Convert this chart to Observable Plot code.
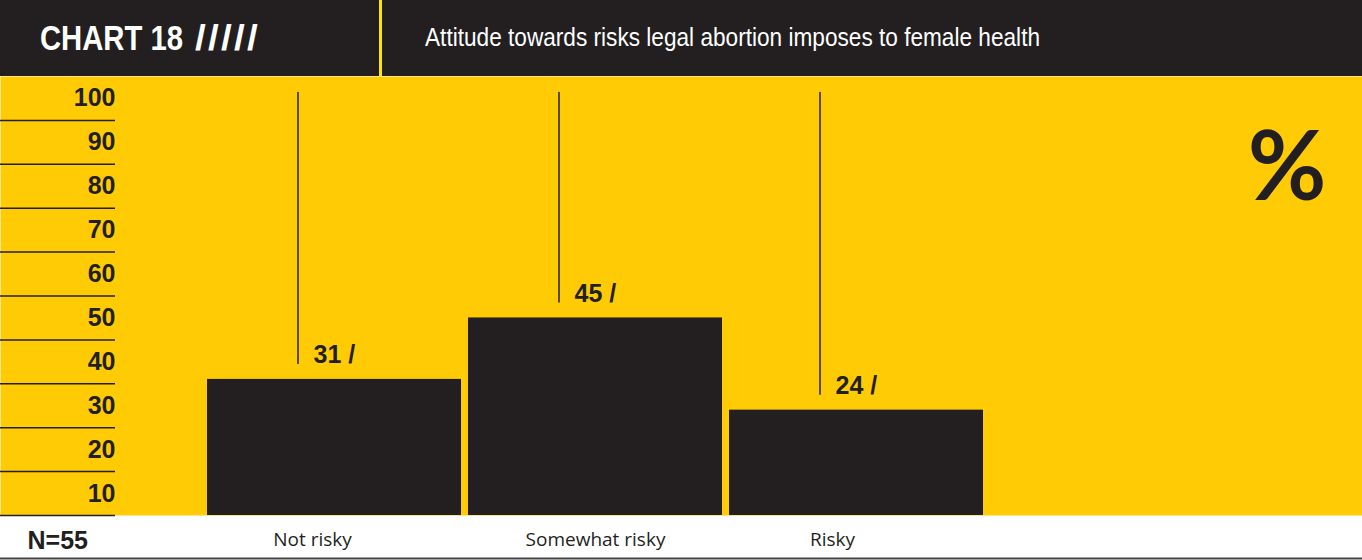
<!DOCTYPE html>
<html>
<head>
<meta charset="utf-8">
<script src="https://cdn.jsdelivr.net/npm/d3@7"></script>
<script src="https://cdn.jsdelivr.net/npm/@observablehq/plot@0.6"></script>
<style>
  html, body { margin: 0; padding: 0; background: #ffffff; }
  #wrap { width: 1362px; height: 560px; position: relative; overflow: hidden; }
  #header { position: relative; width: 1362px; height: 76px; background: #231f20; }
  #header .divider { position: absolute; left: 379px; top: 0; width: 3px; height: 76px; background: #ffe600; }
  #header .cond { position: absolute; color: #ffffff; white-space: nowrap;
    font-family: "Liberation Sans", Arial, sans-serif; transform-origin: 0 0; }
  #t1 { left: 40px; top: 20.4px; font-weight: bold; font-size: 35px; line-height: 35px; }
  #t2 { left: 195px; top: 20.4px; font-weight: bold; font-size: 35px; line-height: 35px; letter-spacing: 2px; }
  #sub { left: 425px; top: 23.7px; font-size: 26px; line-height: 26px; }
  #chart svg { display: block; }
</style>
</head>
<body>
<div id="wrap">
  <div id="header">
    <span class="cond" id="t1">CHART 18</span>
    <span class="cond" id="t2">/////</span>
    <div class="divider"></div>
    <span class="cond" id="sub">Attitude towards risks legal abortion imposes to female health</span>
  </div>
  <div id="chart"></div>
</div>
<script>
// ---- data ----
const categories = ["Not risky", "Somewhat risky", "Risky"];
const values = [31, 45, 24];
const gridValues = [0, 10, 20, 30, 40, 50, 60, 70, 80, 90];
const tickLabels = [10, 20, 30, 40, 50, 60, 70, 80, 90, 100];
const sampleLabel = "N=55";
const unitLabel = "%";

// ---- condensed header text (horizontal squeeze to mimic a condensed face) ----
function fit(id, targetWidth) {
  const el = document.getElementById(id);
  const w = el.getBoundingClientRect().width;
  if (w > 0) el.style.transform = `scaleX(${targetWidth / w})`;
}
fit("t1", 143);
fit("t2", 65);
fit("sub", 615);

// ---- build ----
const data = categories.map((c, i) => ({category: c, value: values[i]}));

const YELLOW = "#ffcb05";
const DARK = "#231f20";
const W = 1362, H = 484;
const boldFont = "'Liberation Sans', Arial, sans-serif";
// per-category horizontal nudges of the bottom labels (layout only)
const catNudge = {"Not risky": -22, "Somewhat risky": 0, "Risky": -24};

const marks = [
  Plot.frame({fill: YELLOW, stroke: "none"}),
  // horizontal grid stubs on the left
  Plot.ruleY(gridValues, {y: d => d, stroke: DARK, strokeWidth: 1.5, insetRight: W - 115}),
  // tick labels centered in the band below each value
  Plot.text(tickLabels, {
    y: d => d - 5, text: d => String(d), frameAnchor: "left", dx: 115,
    textAnchor: "end", lineAnchor: "middle", fill: DARK,
    fontSize: 25, fontWeight: "bold", fontFamily: boldFont
  }),
  // bars
  Plot.barY(data, {x: "category", y: "value", fill: DARK}),
  // leader lines (from just above each bar up toward the top)
  Plot.arrow(data, {
    x1: "category", x2: "category", y1: "value", y2: 100, dx: -36.5,
    insetStart: 16, insetEnd: 16, headLength: 0, stroke: DARK, strokeWidth: 1.5
  }),
  // value labels
  Plot.text(data, {
    x: "category", y: "value", text: d => `${d.value} /`, dx: -21, dy: -16,
    textAnchor: "start", lineAnchor: "bottom", fill: DARK,
    fontSize: 25, fontWeight: "bold", fontFamily: boldFont
  }),
  // category labels
  ...data.map(d => Plot.text([d], {
    x: "category", text: "category", frameAnchor: "bottom", dx: catNudge[d.category], dy: 30,
    textAnchor: "middle", lineAnchor: "bottom", fill: DARK,
    fontSize: 19, fontFamily: "'Open Sans', sans-serif"
  })),
  // N label
  Plot.text([sampleLabel], {
    text: d => d, frameAnchor: "bottom-left", dx: 27, dy: 33,
    textAnchor: "start", lineAnchor: "bottom", fill: DARK,
    fontSize: 25, fontWeight: "bold", fontFamily: boldFont
  }),
  // percent sign
  Plot.text([unitLabel], {
    text: d => d, frameAnchor: "top-right", dx: -36, dy: 55,
    textAnchor: "end", lineAnchor: "top", fill: DARK,
    fontSize: 96, fontWeight: "bold", fontFamily: "Lato, 'Noto Sans', sans-serif"
  }),
  // bottom rule
  Plot.ruleY([0], {y: d => d, dy: 43, stroke: "#444", strokeWidth: 2})
];

const chart = Plot.plot({
  width: W,
  height: H,
  marginTop: 0,
  marginBottom: 45,
  marginLeft: 0,
  marginRight: 0,
  style: {background: "transparent", overflow: "visible"},
  x: {domain: categories, range: [206, 984], paddingInner: 0.025, paddingOuter: 0, axis: null},
  y: {domain: [0, 100], axis: null},
  marks
});
document.getElementById("chart").appendChild(chart);
</script>
</body>
</html>
